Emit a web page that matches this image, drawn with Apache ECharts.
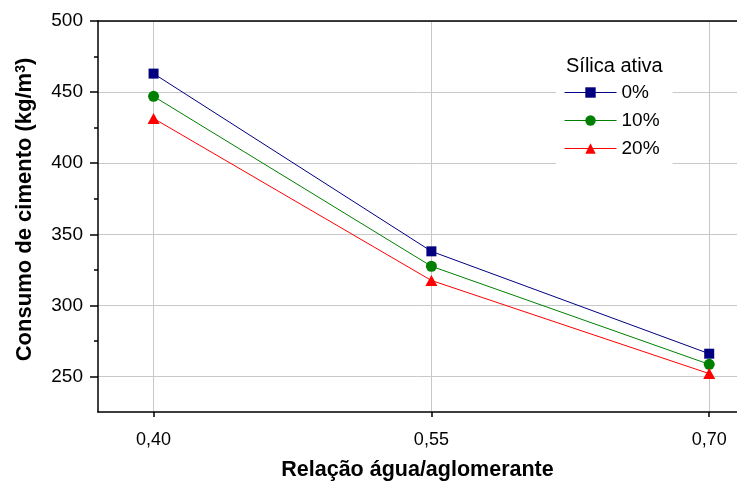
<!DOCTYPE html>
<html>
<head>
<meta charset="utf-8">
<script src="https://cdn.jsdelivr.net/npm/echarts@6/dist/echarts.min.js"></script>
<style>html,body{margin:0;padding:0;background:#fff;}#c{width:737px;height:489px;}</style>
</head>
<body>
<div id="c"></div>
<script>
const xValues = [0.40, 0.55, 0.70];
const seriesNames = ['0%', '10%', '20%'];
const s0 = [463, 338, 266];
const s10 = [447, 327.5, 258.5];
const s20 = [431.5, 317.5, 252];
const xTicks = [0.40, 0.55, 0.70];
const yMajorTicks = [250, 300, 350, 400, 450, 500];
const yMinorTicks = [275, 325, 375, 425, 475];
const legendTitle = 'Sílica ativa';
const xName = 'Relação água/aglomerante';
const yName = 'Consumo de cimento (kg/m{sup|3})';

const FONT = '"Liberation Sans", Arial, sans-serif';
const colors = ['#000080', '#008000', '#ff0000'];
const symbols = ['rect', 'circle', 'triangle'];
const allData = [s0, s10, s20];

const chart = echarts.init(document.getElementById('c'), null, {renderer: 'canvas'});
const series = allData.map((arr, i) => ({
  name: seriesNames[i],
  type: 'line',
  xAxisIndex: 0,
  yAxisIndex: 0,
  data: arr.map((v, j) => [xValues[j], v]),
  symbol: symbols[i],
  symbolSize: symbols[i] === 'triangle' ? [12, 11] : (symbols[i] === 'rect' ? 10 : 11),
  color: colors[i],
  lineStyle: {width: 1, color: colors[i]},
  itemStyle: {color: colors[i]},
  animation: false,
  z: 3
}));

chart.setOption({
  animation: false,
  backgroundColor: '#fff',
  textStyle: {fontFamily: FONT},
  grid: {left: 98, right: 0, top: 21, bottom: 77, containLabel: false},
  title: {
    text: legendTitle,
    left: 556, top: 50,
    padding: [6, 9, 2, 10],
    backgroundColor: '#fff',
    textStyle: {fontFamily: FONT, fontSize: 20, fontWeight: 'normal', color: '#000'}
  },
  legend: {
    orient: 'vertical',
    left: 556, top: 80,
    padding: [3, 13, 12, 8],
    backgroundColor: '#fff',
    itemWidth: 52, itemHeight: 13, itemGap: 9,
    lineStyle: {width: 1},
    textStyle: {fontFamily: FONT, fontSize: 19, lineHeight: 19, color: '#000'},
    data: seriesNames
  },
  xAxis: [{
    type: 'value',
    min: 0.37, max: 0.715,
    position: 'bottom',
    name: xName,
    nameLocation: 'middle',
    nameGap: 47,
    nameTextStyle: {fontFamily: FONT, fontSize: 21.5, fontWeight: 'bold', color: '#000'},
    axisLine: {show: true, onZero: false, lineStyle: {color: '#000', width: 1.5}},
    axisTick: {show: true, inside: false, length: 5, customValues: xTicks, lineStyle: {color: '#000', width: 1.5}},
    axisLabel: {customValues: xTicks, margin: 19, fontFamily: FONT, fontSize: 18, color: '#000',
      formatter: v => v.toFixed(2).replace('.', ',')},
    splitLine: {show: true, lineStyle: {color: '#c8c8c8', width: 1}},
    minorTick: {show: false}
  }, {
    type: 'value',
    min: 0.37, max: 0.715,
    position: 'top',
    axisLine: {show: true, onZero: false, lineStyle: {color: '#000', width: 1.5}},
    axisTick: {show: false},
    axisLabel: {show: false},
    splitLine: {show: false}
  }],
  yAxis: [{
    type: 'value',
    min: 225, max: 500,
    position: 'left',
    name: yName,
    nameLocation: 'middle',
    nameGap: 62,
    nameTextStyle: {fontFamily: FONT, fontSize: 22, fontWeight: 'bold', color: '#000', padding: [0, 0, 0, 14],
      rich: {sup: {fontFamily: FONT, fontSize: 14, fontWeight: 'bold', color: '#000', verticalAlign: 'top', lineHeight: 22}}},
    axisLine: {show: true, onZero: false, lineStyle: {color: '#000', width: 1.5}},
    axisTick: {show: true, inside: false, length: 8, customValues: yMajorTicks, lineStyle: {color: '#000', width: 1.5}},
    axisLabel: {customValues: yMajorTicks, margin: 15, fontFamily: FONT, fontSize: 19, color: '#000'},
    splitLine: {show: true, lineStyle: {color: '#c8c8c8', width: 1}}
  }, {
    type: 'value',
    min: 225, max: 500,
    position: 'left',
    axisLine: {show: false},
    axisTick: {show: true, inside: false, length: 4, customValues: yMinorTicks, lineStyle: {color: '#000', width: 1.5}},
    axisLabel: {show: false},
    splitLine: {show: false}
  }],
  series: series
});
</script>
</body>
</html>
